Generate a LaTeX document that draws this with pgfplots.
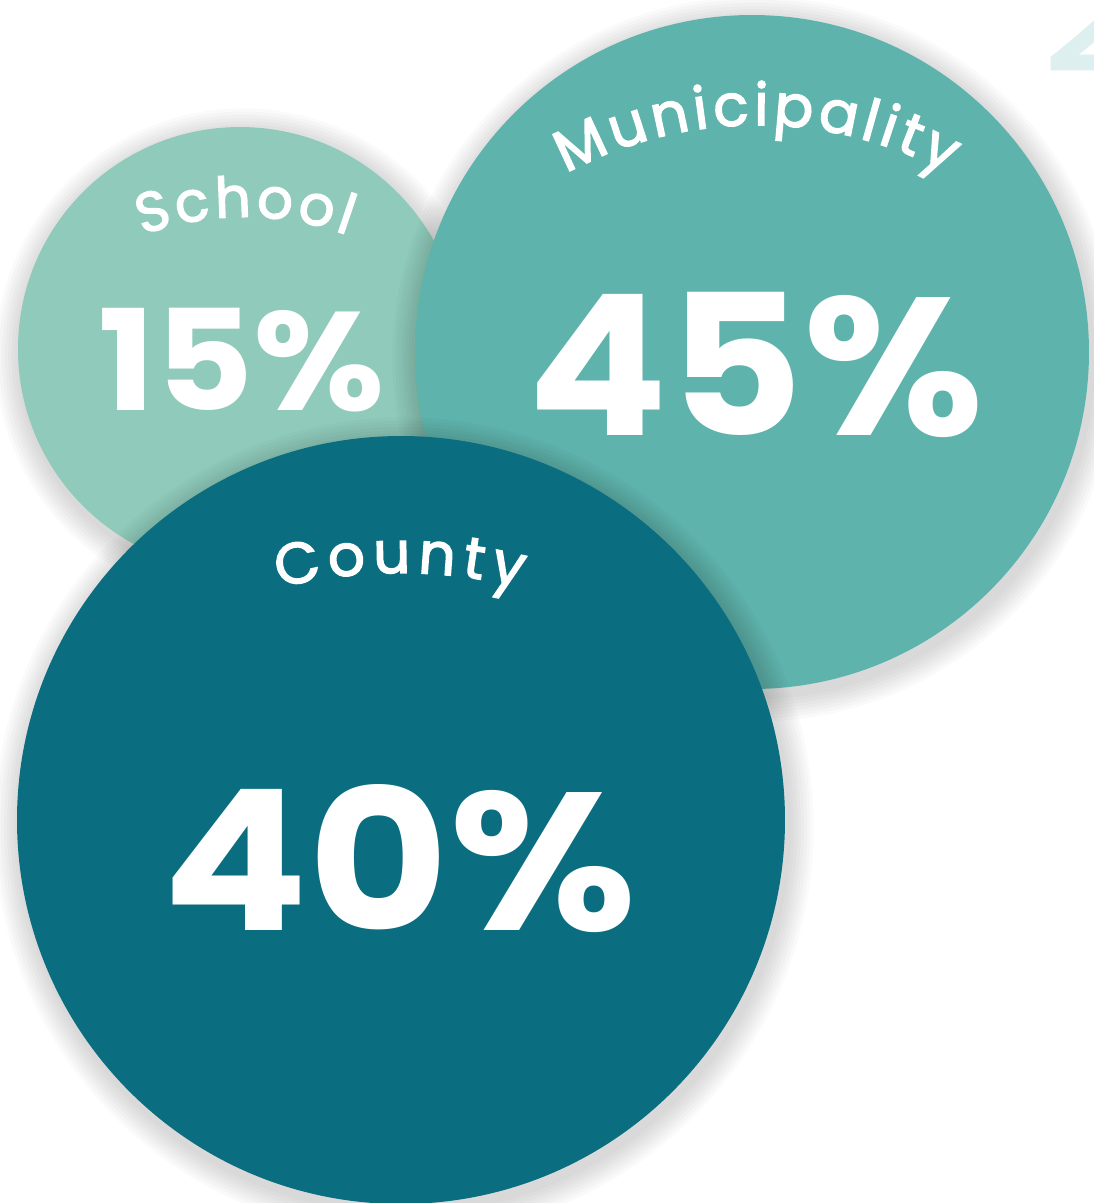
\documentclass[border=0pt]{standalone}
\usepackage{fontspec}
\setmainfont{Poppins}
\newfontfamily\labfont[FakeBold=2.5]{Poppins}
\usepackage{pgfplots}
\usepackage{pgfplotstable}
\pgfplotsset{compat=1.18}
\usetikzlibrary{decorations.text}

\definecolor{school}{HTML}{8FCABB}
\definecolor{muni}{HTML}{5EB3AC}
\definecolor{county}{HTML}{0A6E80}
\definecolor{faint}{HTML}{DDEFEE}

% bubble centres and radii, in picture pixels (y downwards)
\pgfplotstableread{
x y r
240 349 222
}\school
\pgfplotstableread{
x y r
752 352 337
}\muni
\pgfplotstableread{
x y r
401 820 384
}\county

% 1 pixel = 0.25pt; sizes are expanded now, since plots are drawn later
\newcommand{\bubble}[2]{%
  \pgfplotstablegetelem{0}{r}\of#1%
  \pgfmathsetmacro\rr{0.25*\pgfplotsretval}%
  \foreach \k in {1,...,8}{%
    \pgfmathsetmacro\rk{\rr+0.8*\k}%
    \edef\temp{\noexpand\addplot[only marks, mark=*, mark size=\rk pt,
      mark options={fill=black, fill opacity=0.018, draw opacity=0}]
      table[x expr=\noexpand\thisrow{x}+3, y expr=\noexpand\thisrow{y}+7] {\noexpand#1};}%
    \temp
  }%
  \edef\temp{\noexpand\addplot[only marks, mark=*, mark size=\rr pt, color=#2,
    mark options={fill=#2, draw opacity=0}] table {\noexpand#1};}%
  \temp
}

\begin{document}
\begin{tikzpicture}
\begin{axis}[
  x=0.25pt, y=0.25pt, y dir=reverse,
  xmin=0, xmax=1094, ymin=0, ymax=1203,
  enlargelimits=false,
  hide axis,
  clip marker paths=true,
]
\node[anchor=base west, inner sep=0, text=faint,
  font=\fontsize{52}{52}\selectfont] at (axis cs:1040,72) {2};

\bubble{\school}{school}
\bubble{\muni}{muni}
\bubble{\county}{county}

\node[anchor=base, inner sep=0, text=white, xscale=1.08,
  font=\bfseries\fontsize{35}{35}\selectfont] at (axis cs:242,410) {15\%};
\node[anchor=base, inner sep=0, text=white, xscale=1.06,
  font=\bfseries\fontsize{49}{49}\selectfont] at (axis cs:756,435) {45\%};
\node[anchor=base, inner sep=0, text=white, xscale=1.1,
  font=\bfseries\fontsize{49}{49}\selectfont] at (axis cs:400,930) {40\%};

\coordinate (cs) at (axis cs:245,517);
\coordinate (cm) at (axis cs:757,525);
\coordinate (cc) at (axis cs:400,1073);
\coordinate (bl) at (axis cs:0,1203);
\coordinate (tr) at (axis cs:1094,0);
\end{axis}

\path[decorate, decoration={text along path, text align=fit to path,
  text={|\color{white}\labfont\fontsize{14}{17}\selectfont|School}}]
  ([shift={(110:75pt)}]cs) arc[start angle=110, end angle=70, radius=75pt];
\path[decorate, decoration={text along path, text align=fit to path,
  text={|\color{white}\labfont\fontsize{14.5}{17}\selectfont|Municipality}}]
  ([shift={(118.5:100pt)}]cm) arc[start angle=118.5, end angle=61.5, radius=100pt];
\path[decorate, decoration={text along path, text align=fit to path,
  text={|\color{white}\labfont\fontsize{14.5}{17}\selectfont|County}}]
  ([shift={(104:125pt)}]cc) arc[start angle=104, end angle=76, radius=125pt];

\pgfresetboundingbox
\path (bl) rectangle (tr);
\end{tikzpicture}
\end{document}
